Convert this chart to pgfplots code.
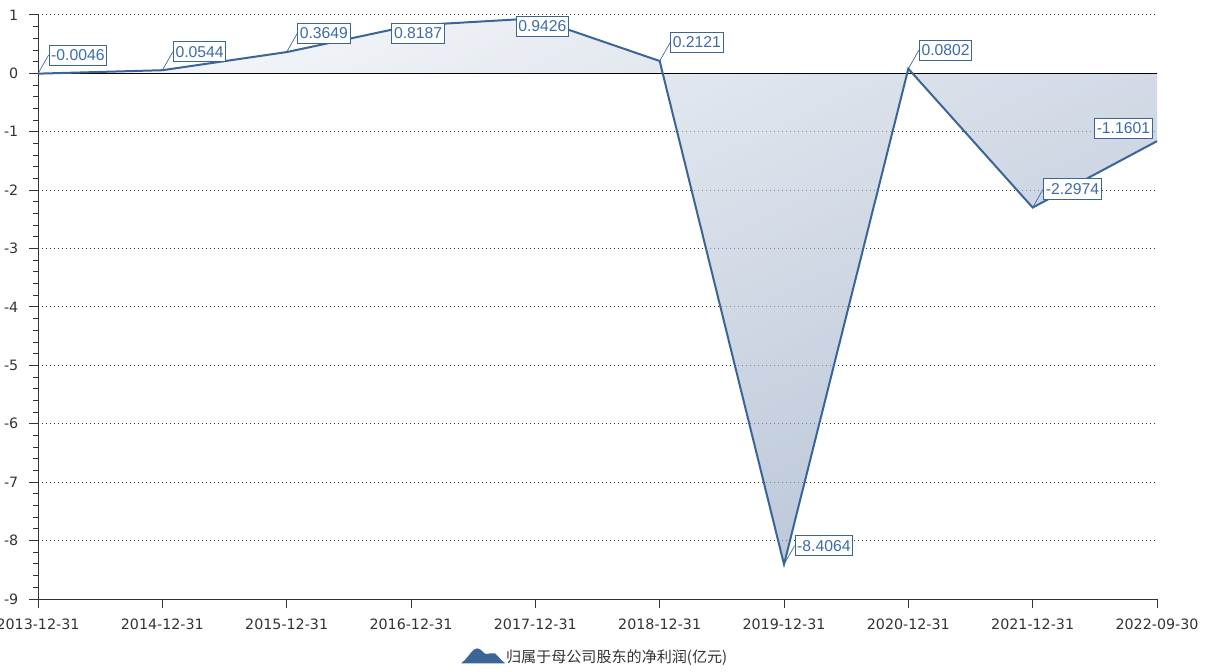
\documentclass[border=0pt]{standalone}
\usepackage{fontspec}
\setmainfont{DejaVu Sans}
\newfontfamily\cjk{Noto Sans CJK SC}
\newfontfamily\labfont{Liberation Sans}
\usepackage{pgfplots}
\pgfplotsset{compat=1.18}
\definecolor{lblue}{HTML}{3A6596}
\definecolor{ltext}{HTML}{3D6CA4}
\definecolor{ticktxt}{HTML}{333333}
\definecolor{shtop}{RGB}{232,236,242}
\definecolor{shbot}{RGB}{140,160,190}
\newcommand{\lblfont}{\labfont\fontsize{11.8}{13}\selectfont}
\begin{document}
\begin{tikzpicture}
\useasboundingbox (-28.5pt,-54pt) rectangle (883.5pt,449.25pt);
\begin{axis}[
  scale only axis, width=839.25pt, height=438pt,
  xmin=0, xmax=9, ymin=-9, ymax=1,
  axis lines=left,
  axis line style={-, ticktxt, line width=0.75pt},
  xtick={0,...,9},
  xticklabels={2013-12-31,2014-12-31,2015-12-31,2016-12-31,2017-12-31,
               2018-12-31,2019-12-31,2020-12-31,2021-12-31,2022-09-30},
  ytick={-9,-8,...,1},
  minor y tick num=4,
  tick align=outside,
  major tick length=6.75pt, minor tick length=3.75pt,
  tick style={ticktxt, line width=0.75pt},
  ymajorgrids,
  major grid style={black!80, line width=0.75pt, dash pattern=on 0.75pt off 2.25pt},
  ticklabel style={font=\fontsize{10.7}{12}\selectfont, text=ticktxt},
  xticklabel style={yshift=-4.5pt},
  yticklabel style={xshift=-4.5pt},
  /pgf/number format/assume math mode=true,
  clip=false,
  legend style={at={(axis description cs:0.499,-0.0993)}, anchor=center,
    draw=none, fill=none, font=\fontsize{11.3}{13}\selectfont, text=ticktxt,
    /tikz/every even column/.append style={column sep=2pt}},
]
% area between the curve and zero
\addplot[draw=none, mark=none, forget plot, top color=shtop, bottom color=shbot,
  shading angle=25, fill opacity=0.6] coordinates {
  (0,0) (0,-0.0046) (1,0.0544) (2,0.3649) (3,0.8187) (4,0.9426)
  (5,0.2121) (6,-8.4064) (7,0.0802) (8,-2.2974) (9,-1.1601) (9,0)};
% zero line
\addplot[black, line width=0.75pt, mark=none, forget plot] coordinates {(0,0) (9,0)};
% the series
\addplot[lblue, line width=1.5pt, mark=none,
  legend image code/.code={
    \fill[lblue] (-4pt,-4pt) .. controls (1pt,0.5pt) and (3pt,5.7pt) .. (6pt,5.7pt)
      .. controls (9pt,5.7pt) and (10pt,1.5pt) .. (13pt,1.5pt)
      .. controls (15pt,1.5pt) and (17pt,2.7pt) .. (19pt,2pt)
      .. controls (21pt,0.5pt) and (23pt,-2.5pt) .. (25pt,-4pt) -- cycle;}]
  coordinates {
  (0,-0.0046) (1,0.0544) (2,0.3649) (3,0.8187) (4,0.9426)
  (5,0.2121) (6,-8.4064) (7,0.0802) (8,-2.2974) (9,-1.1601)};
\addlegendentry{\cjk 归属于母公司股东的净利润(亿元)}
% labels with leader lines
\addplot[draw=none, mark=none, forget plot, point meta=explicit symbolic,
  nodes near coords,
  nodes near coords style={anchor=west, xshift=7.9pt, yshift=13.9pt,
    draw=lblue, line width=0.75pt, fill=white, text=ltext,
    inner xsep=1.6pt, inner ysep=3.4pt, font=\lblfont,
    append after command={(\tikzlastnode.west) edge[lblue, line width=0.5pt] ++(-7.9pt,-13.9pt)}}]
  coordinates {
  (0,-0.0046) [-0.0046] (1,0.0544) [0.0544] (2,0.3649) [0.3649]
  (5,0.2121) [0.2121] (6,-8.4064) [-8.4064] (7,0.0802) [0.0802]
  (8,-2.2974) [-2.2974]};
% labels pushed down at the top
\addplot[draw=none, mark=none, forget plot, point meta=explicit symbolic,
  nodes near coords,
  nodes near coords style={anchor=center, xshift=5.3pt, yshift=-5.9pt,
    draw=lblue, line width=0.75pt, fill=white, text=ltext,
    inner xsep=1.6pt, inner ysep=3.4pt, font=\lblfont}]
  coordinates {(3,0.8187) [0.8187] (4,0.9426) [0.9426]};
% last label, left of the point
\addplot[draw=none, mark=none, forget plot, point meta=explicit symbolic,
  nodes near coords,
  nodes near coords style={anchor=east, xshift=-3.2pt, yshift=9.75pt,
    draw=lblue, line width=0.75pt, fill=white, text=ltext,
    inner xsep=1.6pt, inner ysep=3.4pt, font=\lblfont}]
  coordinates {(9,-1.1601) [-1.1601]};
\end{axis}
\end{tikzpicture}
\end{document}
